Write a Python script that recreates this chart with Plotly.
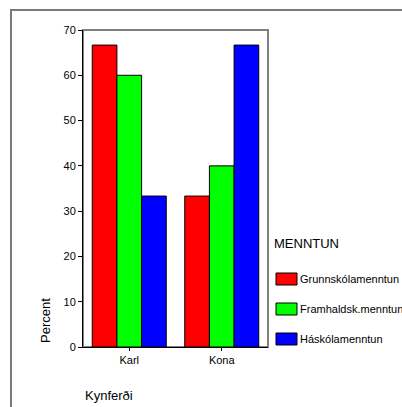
import plotly.graph_objects as go

categories = ["Karl", "Kona"]
series_names = ["Grunnskólamenntun", "Framhaldsk.menntun", "Háskólamenntun"]
grunn = [66.67, 33.33]
framh = [60.0, 40.0]
haskoli = [33.33, 66.67]
series_values = [grunn, framh, haskoli]
colors = ["#ff0000", "#00ff00", "#0000ff"]

W, H = 402, 407
L, R, T, B = 83, 268, 30, 347

def px(x):
    return (x - L) / (R - L)

def py(y):
    return (B - y) / (B - T)

fig = go.Figure()
for name, vals, c in zip(series_names, series_values, colors):
    fig.add_trace(go.Bar(x=categories, y=vals, name=name,
                         marker=dict(color=c, line=dict(color="black", width=1)),
                         showlegend=False))

shapes = [
    dict(type="rect", xref="paper", yref="paper", x0=px(11), x1=px(440), y0=py(440), y1=py(10),
         line=dict(color="#7a7a7a", width=2), layer="below"),
    dict(type="rect", xref="paper", yref="paper", x0=0, x1=1, y0=0, y1=1,
         line=dict(color="#808080", width=2), layer="below"),
]
annotations = [
    dict(text="Percent", xref="paper", yref="paper", x=px(45), y=py(321), textangle=-90,
         showarrow=False, font=dict(size=13, color="black"), xanchor="center", yanchor="middle"),
    dict(text="Kynferði", xref="paper", yref="paper", x=px(83), y=py(395),
         showarrow=False, font=dict(size=13, color="black"), xanchor="left", yanchor="middle"),
    dict(text="MENNTUN", xref="paper", yref="paper", x=px(272), y=py(243),
         showarrow=False, font=dict(size=13, color="black"), xanchor="left", yanchor="middle"),
]
for i, (name, c) in enumerate(zip(series_names, colors)):
    yc = 279 + 30 * i
    shapes.append(dict(type="rect", xref="paper", yref="paper", x0=px(276), x1=px(297),
                       y0=py(yc + 6), y1=py(yc - 6), fillcolor=c,
                       line=dict(color="black", width=1), layer="above"))
    annotations.append(dict(text=name, xref="paper", yref="paper", x=px(298), y=py(yc),
                            showarrow=False, font=dict(size=11, color="black"),
                            xanchor="left", yanchor="middle"))

fig.update_layout(
    width=W, height=H,
    margin=dict(l=L, r=W - R, t=T, b=H - B, pad=0),
    paper_bgcolor="white", plot_bgcolor="white",
    barmode="group", bargap=0.2, bargroupgap=0,
    font=dict(family="Liberation Sans, Arial, sans-serif", size=11, color="black"),
    xaxis=dict(showline=True, linecolor="black", linewidth=1, ticks="outside", ticklen=3,
               tickcolor="black", showgrid=False, tickfont=dict(size=11)),
    yaxis=dict(range=[0, 70], dtick=10, showline=True, linecolor="black", linewidth=1,
               ticks="outside", ticklen=4, tickcolor="black", showgrid=False, zeroline=False,
               tickfont=dict(size=11)),
    shapes=shapes, annotations=annotations, showlegend=False,
)
fig.write_html("out.html", config={"displayModeBar": False},
               post_script="document.body.style.margin='0';document.body.style.overflow='hidden';")
